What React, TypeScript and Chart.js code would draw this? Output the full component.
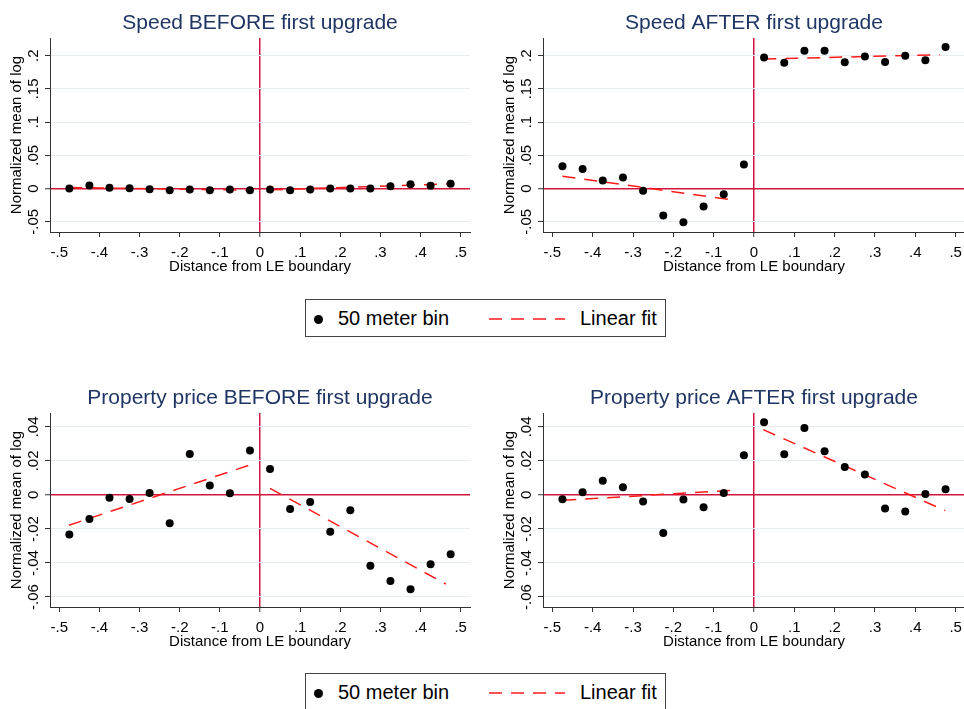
import React, { useEffect, useRef } from "react";
import { Chart, registerables } from "chart.js";

Chart.register(...registerables);

// ---------- data ----------
const bins = [-0.475, -0.425, -0.375, -0.325, -0.275, -0.225, -0.175, -0.125, -0.075, -0.025,
  0.025, 0.075, 0.125, 0.175, 0.225, 0.275, 0.325, 0.375, 0.425, 0.475];

const speedBefore = [0.0, 0.0045, 0.001, 0.0005, -0.001, -0.0025, -0.0015, -0.0025, -0.0015, -0.0025,
  -0.0015, -0.0025, -0.0015, 0.0, 0.0, 0.0, 0.0035, 0.0065, 0.004, 0.007];
const speedAfter = [0.0335, 0.0295, 0.012, 0.0165, -0.0035, -0.0405, -0.051, -0.027, -0.0085, 0.036,
  0.1975, 0.1895, 0.2075, 0.2075, 0.19, 0.199, 0.1905, 0.2, 0.193, 0.213];
const priceBefore = [-0.0233, -0.0141, -0.0016, -0.0024, 0.0012, -0.0167, 0.0241, 0.0055, 0.001, 0.0261,
  0.0153, -0.0082, -0.0041, -0.0216, -0.009, -0.0416, -0.0506, -0.0555, -0.0408, -0.0349];
const priceAfter = [-0.0025, 0.0016, 0.0084, 0.0045, -0.0039, -0.0224, -0.0027, -0.0073, 0.0012, 0.0233,
  0.0427, 0.0239, 0.0394, 0.0257, 0.0165, 0.012, -0.008, -0.0098, 0.0006, 0.0033];

const speedBeforeFitLeftX = [-0.475, -0.03];
const speedBeforeFitLeftY = [0.0015, -0.0025];
const speedBeforeFitRightX = [0.025, 0.47];
const speedBeforeFitRightY = [-0.002, 0.007];

const speedAfterFitLeftX = [-0.475, -0.043];
const speedAfterFitLeftY = [0.0185, -0.018];
const speedAfterFitRightX = [0.023, 0.461];
const speedAfterFitRightY = [0.195, 0.2015];

const priceBeforeFitLeftX = [-0.476, -0.023];
const priceBeforeFitLeftY = [-0.0178, 0.0178];
const priceBeforeFitRightX = [0.025, 0.463];
const priceBeforeFitRightY = [0.0039, -0.0524];

const priceAfterFitLeftX = [-0.473, -0.039];
const priceAfterFitLeftY = [-0.0031, 0.0029];
const priceAfterFitRightX = [0.023, 0.474];
const priceAfterFitRightY = [0.0384, -0.0092];

const xTickValues = [-0.5, -0.4, -0.3, -0.2, -0.1, 0, 0.1, 0.2, 0.3, 0.4, 0.5];
const xTickLabels = ["-.5", "-.4", "-.3", "-.2", "-.1", "0", ".1", ".2", ".3", ".4", ".5"];
const speedYTickValues = [-0.05, 0, 0.05, 0.1, 0.15, 0.2];
const speedYTickLabels = ["-.05", "0", ".05", ".1", ".15", ".2"];
const priceYTickValues = [-0.06, -0.04, -0.02, 0, 0.02, 0.04];
const priceYTickLabels = ["-.06", "-.04", "-.02", "0", ".02", ".04"];

const xRange = [-0.5232, 0.5232];
const speedYRange = [-0.0655, 0.2267];
const priceYRange = [-0.0659, 0.0482];

const titles = [
  "Speed BEFORE first upgrade",
  "Speed AFTER first upgrade",
  "Property price BEFORE first upgrade",
  "Property price AFTER first upgrade",
];
const xTitle = "Distance from LE boundary";
const yTitle = "Normalized mean of log";
const legendPoint = "50 meter bin";
const legendLine = "Linear fit";

// ---------- styles ----------
const FONT = "'Liberation Sans', Arial, Helvetica, sans-serif";
const TITLE_COLOR = "#1f3563";
const REF_RED = "#d2143c";
const FIT_RED = "#ff1a1a";
const GRID = "#e6edf2";
const AXIS = "#333333";

type PanelProps = {
  left: number;
  top: number;
  width: number;
  height: number;
  title: string;
  ys: number[];
  fitLX: number[];
  fitLY: number[];
  fitRX: number[];
  fitRY: number[];
  yRange: number[];
  yTicks: number[];
  yTickLabels: string[];
};

function Panel(p: PanelProps) {
  const ref = useRef<HTMLCanvasElement | null>(null);
  useEffect(() => {
    if (!ref.current) return;
    const pts = bins.map((x, i) => ({ x, y: p.ys[i] }));
    const fitL = p.fitLX.map((x, i) => ({ x, y: p.fitLY[i] }));
    const fitR = p.fitRX.map((x, i) => ({ x, y: p.fitRY[i] }));
    const lineDs = (data: any) => ({
      type: "line" as const,
      data,
      borderColor: FIT_RED,
      borderWidth: 1.5,
      borderDash: [13, 9],
      pointRadius: 0,
      fill: false,
      order: 2,
    });
    const chart = new Chart(ref.current, {
      type: "scatter",
      data: {
        datasets: [
          {
            type: "scatter",
            data: pts,
            backgroundColor: "#000",
            borderColor: "#000",
            borderWidth: 0,
            pointRadius: 4,
            order: 1,
          } as any,
          lineDs(fitL),
          lineDs(fitR),
        ],
      },
      options: {
        responsive: false,
        animation: false,
        events: [],
        layout: { padding: { left: 0, right: 12, top: 0, bottom: 0 } },
        plugins: {
          legend: { display: false },
          tooltip: { enabled: false },
          title: {
            display: true,
            text: p.title,
            fullSize: false,
            color: TITLE_COLOR,
            font: { family: FONT, size: 21, weight: "normal", lineHeight: 1.2 },
            padding: { top: 10.8, bottom: 2 },
          },
        },
        scales: {
          x: {
            type: "linear",
            min: xRange[0],
            max: xRange[1],
            afterBuildTicks: (s: any) => {
              s.ticks = xTickValues.map((v) => ({ value: v }));
            },
            afterFit: (s: any) => {
              s.height = 58;
            },
            ticks: {
              autoSkip: false,
              maxRotation: 0,
              minRotation: 0,
              padding: 7,
              color: "#000",
              font: { family: FONT, size: 15 },
              callback: (_v: any, i: number) => xTickLabels[i],
            },
            grid: {
              drawOnChartArea: true,
              color: (c: any) => (c.tick && c.tick.value === 0 ? REF_RED : "rgba(0,0,0,0)"),
              lineWidth: (c: any) => (c.tick && c.tick.value === 0 ? 1.5 : 1),
              tickColor: AXIS,
              tickLength: 5,
              tickWidth: 1,
            },
            border: { display: true, color: AXIS, width: 1 },
            title: {
              display: true,
              text: xTitle,
              color: "#000",
              font: { family: FONT, size: 15 },
              padding: { top: 0, bottom: 14 },
            },
          },
          y: {
            type: "linear",
            min: p.yRange[0],
            max: p.yRange[1],
            afterBuildTicks: (s: any) => {
              s.ticks = p.yTicks.map((v) => ({ value: v }));
            },
            afterFit: (s: any) => {
              s.width = 50;
            },
            ticks: {
              autoSkip: false,
              minRotation: 90,
              maxRotation: 90,
              crossAlign: "center",
              padding: -2,
              color: "#000",
              font: { family: FONT, size: 15 },
              callback: (_v: any, i: number) => p.yTickLabels[i],
            },
            grid: {
              color: (c: any) => (c.tick && c.tick.value === 0 ? REF_RED : GRID),
              lineWidth: (c: any) => (c.tick && c.tick.value === 0 ? 1.5 : 1),
              tickColor: AXIS,
              tickLength: 5,
              tickWidth: 1,
            },
            border: { display: true, color: AXIS, width: 1 },
            title: {
              display: true,
              text: yTitle,
              color: "#000",
              font: { family: FONT, size: 15 },
              padding: { top: 8, bottom: 0 },
            },
          },
        },
      } as any,
    });
    return () => chart.destroy();
  }, []);
  return (
    <canvas
      ref={ref}
      width={p.width}
      height={p.height}
      style={{ position: "absolute", left: p.left, top: p.top, width: p.width, height: p.height }}
    />
  );
}

function Legend({ top }: { top: number }) {
  return (
    <div
      style={{
        position: "absolute",
        left: 305,
        top,
        width: 361,
        height: 38,
        boxSizing: "border-box",
        border: "1px solid #444",
        background: "#fff",
        fontFamily: FONT,
        fontSize: 20,
        color: "#000",
      }}
    >
      <div
        style={{
          position: "absolute",
          left: 7.5,
          top: 14.5,
          width: 9,
          height: 9,
          borderRadius: "50%",
          background: "#000",
        }}
      />
      <div style={{ position: "absolute", left: 32, top: 0, lineHeight: "36px", whiteSpace: "nowrap" }}>
        {legendPoint}
      </div>
      <svg style={{ position: "absolute", left: 183, top: 17 }} width={76} height={4}>
        <line x1={0} y1={2} x2={76} y2={2} stroke={FIT_RED} strokeWidth={1.5} strokeDasharray="13 9" />
      </svg>
      <div style={{ position: "absolute", left: 274, top: 0, lineHeight: "36px", whiteSpace: "nowrap" }}>
        {legendLine}
      </div>
    </div>
  );
}

export default function App() {
  return (
    <div
      style={{
        position: "absolute",
        left: 0,
        top: 0,
        width: 964,
        height: 709,
        overflow: "hidden",
        background: "#fff",
      }}
    >
      <Panel
        left={0} top={0} width={482} height={290}
        title={titles[0]} ys={speedBefore}
        fitLX={speedBeforeFitLeftX} fitLY={speedBeforeFitLeftY}
        fitRX={speedBeforeFitRightX} fitRY={speedBeforeFitRightY}
        yRange={speedYRange} yTicks={speedYTickValues} yTickLabels={speedYTickLabels}
      />
      <Panel
        left={493} top={0} width={484} height={290}
        title={titles[1]} ys={speedAfter}
        fitLX={speedAfterFitLeftX} fitLY={speedAfterFitLeftY}
        fitRX={speedAfterFitRightX} fitRY={speedAfterFitRightY}
        yRange={speedYRange} yTicks={speedYTickValues} yTickLabels={speedYTickLabels}
      />
      <Panel
        left={0} top={375} width={482} height={290}
        title={titles[2]} ys={priceBefore}
        fitLX={priceBeforeFitLeftX} fitLY={priceBeforeFitLeftY}
        fitRX={priceBeforeFitRightX} fitRY={priceBeforeFitRightY}
        yRange={priceYRange} yTicks={priceYTickValues} yTickLabels={priceYTickLabels}
      />
      <Panel
        left={493} top={375} width={484} height={290}
        title={titles[3]} ys={priceAfter}
        fitLX={priceAfterFitLeftX} fitLY={priceAfterFitLeftY}
        fitRX={priceAfterFitRightX} fitRY={priceAfterFitRightY}
        yRange={priceYRange} yTicks={priceYTickValues} yTickLabels={priceYTickLabels}
      />
      <Legend top={299} />
      <Legend top={673} />
    </div>
  );
}
